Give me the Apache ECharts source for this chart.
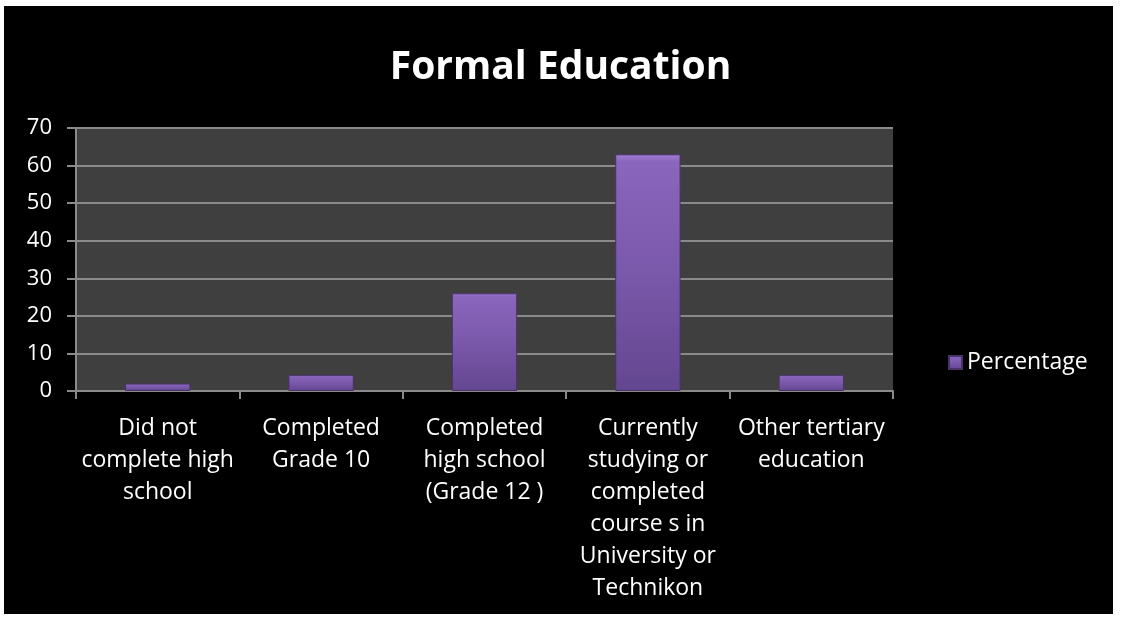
<!DOCTYPE html>
<html>
<head>
<meta charset="utf-8">
<script src="https://cdn.jsdelivr.net/npm/echarts@6/dist/echarts.min.js"></script>
<style>
  html, body { margin: 0; padding: 0; background: #ffffff; }
  #frame { position: absolute; left: 4px; top: 6px; width: 1109px; height: 608px; background: #000; }
  #chart { position: absolute; left: 0; top: 0; width: 1121px; height: 620px; }
</style>
</head>
<body>
<div id="frame"></div>
<div id="chart"></div>
<script>
const titleText = 'Formal Education';
const seriesName = 'Percentage';
const categories = [
  'Did not\ncomplete high\nschool',
  'Completed\nGrade 10',
  'Completed\nhigh school\n(Grade 12 )',
  'Currently\nstudying or\ncompleted\ncourse s in\nUniversity or\nTechnikon',
  'Other tertiary\neducation'
];
const values = [2, 4.3, 26, 63, 4.3];
const yTicks = { min: 0, max: 70, interval: 10 };

const chart = echarts.init(document.getElementById('chart'), null, { renderer: 'canvas' });
const font = '"Open Sans", "Noto Sans", sans-serif';
chart.setOption({
  backgroundColor: 'transparent',
  animation: false,
  title: {
    text: titleText,
    left: 'center',
    top: 43,
    textStyle: { color: '#ffffff', fontSize: 39, fontWeight: 'bold', fontFamily: font }
  },
  legend: {
    data: [seriesName],
    left: 943,
    top: 346,
    itemWidth: 13,
    itemHeight: 13,
    icon: 'rect',
    itemGap: 6,
    textStyle: { color: '#ffffff', fontSize: 23, fontFamily: font }
  },
  grid: {
    left: 76, right: 228, top: 128, bottom: 229,
    show: true, backgroundColor: '#3f3f3f', borderWidth: 0, containLabel: false
  },
  xAxis: {
    type: 'category',
    data: categories,
    boundaryGap: true,
    axisLine: { show: true, lineStyle: { color: '#8a8a8a', width: 2 } },
    axisTick: { show: true, length: 8, lineStyle: { color: '#8a8a8a', width: 2 } },
    axisLabel: {
      color: '#ffffff', fontSize: 23, fontFamily: font, lineHeight: 32, margin: 21, interval: 0
    }
  },
  yAxis: {
    type: 'value',
    min: yTicks.min, max: yTicks.max, interval: yTicks.interval,
    axisLine: { show: true, lineStyle: { color: '#8a8a8a', width: 2 } },
    axisTick: { show: true, length: 9, lineStyle: { color: '#8a8a8a', width: 2 } },
    splitLine: { show: true, lineStyle: { color: '#8a8a8a', width: 2 } },
    axisLabel: { color: '#ffffff', fontSize: 22, fontFamily: font, margin: 24 }
  },
  series: [{
    name: seriesName,
    type: 'bar',
    data: values,
    barWidth: '40%',
    itemStyle: {
      color: new echarts.graphic.LinearGradient(0, 0, 0, 1, [
        { offset: 0, color: '#a37ed6' },
        { offset: 0.03, color: '#8a66bc' },
        { offset: 0.5, color: '#7a58aa' },
        { offset: 1, color: '#634690' }
      ]),
      borderColor: '#4a3268',
      borderWidth: 1
    }
  }]
});
</script>
</body>
</html>
